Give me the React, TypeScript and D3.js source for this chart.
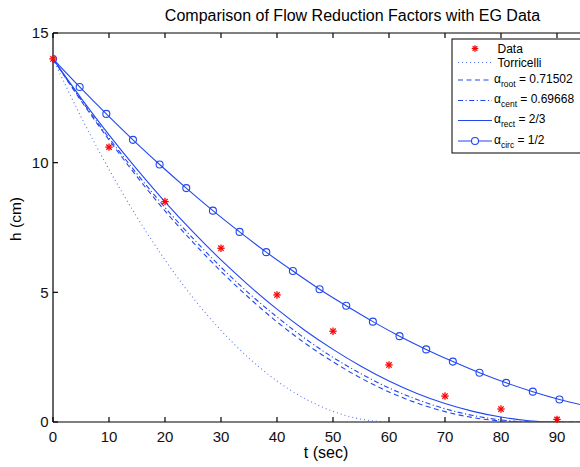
import React from "react";
import * as d3 from "d3";

// ---- data ----
const dataT = [0, 10, 20, 30, 40, 50, 60, 70, 80, 90];
const dataH = [14.0, 10.6, 8.5, 6.7, 4.9, 3.5, 2.2, 1.0, 0.5, 0.1];

const modelT = [0, 5, 10, 15, 20, 25, 30, 35, 40, 45, 50, 55, 60, 65, 70, 75, 80, 85, 90, 95];
const torricelliH = [14.0, 11.77, 9.74, 7.9, 6.25, 4.79, 3.53, 2.46, 1.58, 0.9, 0.41, 0.11, 0.0];
const rootH = [14.0, 12.39, 10.88, 9.46, 8.14, 6.93, 5.81, 4.79, 3.86, 3.04, 2.32, 1.69, 1.16, 0.73, 0.4, 0.17, 0.04, 0.0, 0.0, 0.0];
const centH = [14.0, 12.43, 10.95, 9.57, 8.27, 7.08, 5.97, 4.96, 4.05, 3.22, 2.49, 1.86, 1.31, 0.87, 0.51, 0.25, 0.08, 0.004, 0.0, 0.0];
const rectH = [14.0, 12.49, 11.07, 9.74, 8.49, 7.33, 6.25, 5.26, 4.35, 3.53, 2.8, 2.15, 1.58, 1.1, 0.71, 0.41, 0.19, 0.05, 0.0, 0.0];

const circT = [0, 4.76, 9.52, 14.28, 19.04, 23.8, 28.56, 33.32, 38.08, 42.84, 47.6, 52.36, 57.12, 61.88, 66.64, 71.4, 76.16, 80.92, 85.68, 90.44, 95.2];
const circH = [14.0, 12.92, 11.88, 10.88, 9.93, 9.02, 8.15, 7.33, 6.55, 5.82, 5.12, 4.48, 3.87, 3.31, 2.8, 2.33, 1.9, 1.51, 1.17, 0.87, 0.62];

const xTicks = [0, 10, 20, 30, 40, 50, 60, 70, 80, 90];
const yTicks = [0, 5, 10, 15];

const title = "Comparison of Flow Reduction Factors with EG Data";
const xLabel = "t (sec)";
const yLabel = "h (cm)";

const BLUE = "#2148f0";
const RED = "#ff0000";
const FONT = "'Liberation Sans', Arial, Helvetica, sans-serif";

function Star({ x, y, r = 3.7 }: { x: number; y: number; r?: number }) {
  const d = r * 0.72;
  return (
    <g stroke={RED} strokeWidth={1.3}>
      <line x1={x - r} y1={y} x2={x + r} y2={y} />
      <line x1={x} y1={y - r} x2={x} y2={y + r} />
      <line x1={x - d} y1={y - d} x2={x + d} y2={y + d} />
      <line x1={x - d} y1={y + d} x2={x + d} y2={y - d} />
    </g>
  );
}

export default function App() {
  const W = 580, H = 467;
  const left = 53, top = 33, bottom = 422;
  const x = d3.scaleLinear().domain([0, 100]).range([left, 613]);
  const y = d3.scaleLinear().domain([0, 15]).range([bottom, top]);

  const mk = (ts: number[], hs: number[]) =>
    d3
      .line<number>()
      .x((_, i) => x(ts[i]))
      .y((h) => y(h))
      .curve(d3.curveMonotoneX)(hs) as string;

  const tick = 5;

  const legX0 = 452, legY0 = 39;
  const sx1 = 458, sx2 = 492, tx = 497.5;
  const rows = [48.5, 62.5, 80, 100.5, 120.5, 141];

  const alphaLabel = (sub: string, val: string, yy: number) => (
    <text x={494} y={yy + 3.5} fontSize={12} fontFamily={FONT} fill="#000">
      <tspan>α</tspan>
      <tspan fontSize={8.5} dy={4}>{sub}</tspan>
      <tspan dy={-4}>{" = " + val}</tspan>
    </text>
  );

  return (
    <svg width={W} height={H} style={{ position: "absolute", left: 0, top: 0, background: "#fff" }}>
      <defs>
        <clipPath id="plot">
          <rect x={left} y={top} width={613 - left} height={bottom - top} />
        </clipPath>
      </defs>
      <rect x={0} y={0} width={W} height={H} fill="#fff" />

      {/* axes frame */}
      <g stroke="#000" strokeWidth={1.2} fill="none">
        <line x1={left} y1={top} x2={W} y2={top} />
        <line x1={left} y1={bottom} x2={W} y2={bottom} />
        <line x1={left} y1={top} x2={left} y2={bottom} />
        {xTicks.map((t) => (
          <g key={"xt" + t}>
            <line x1={x(t)} y1={bottom} x2={x(t)} y2={bottom - tick} />
            <line x1={x(t)} y1={top} x2={x(t)} y2={top + tick} />
          </g>
        ))}
        {yTicks.map((t) => (
          <line key={"yt" + t} x1={left} y1={y(t)} x2={left + tick} y2={y(t)} />
        ))}
      </g>

      {/* tick labels */}
      <g fontFamily={FONT} fontSize={15} fill="#111">
        {xTicks.map((t) => (
          <text key={"xl" + t} x={x(t)} y={442} textAnchor="middle">
            {t}
          </text>
        ))}
        {yTicks.map((t) => (
          <text key={"yl" + t} x={48.5} y={y(t) + 5.3} textAnchor="end">
            {t}
          </text>
        ))}
      </g>

      {/* curves */}
      <g clipPath="url(#plot)" fill="none" stroke={BLUE} strokeWidth={1.1}>
        <path d={mk(modelT, torricelliH)} strokeDasharray="1,3" strokeOpacity={0.75} />
        <path d={mk(modelT, rootH)} strokeDasharray="5,3.5" />
        <path d={mk(modelT, centH)} strokeDasharray="5,2.5,1.2,2.5" />
        <path d={mk(modelT, rectH)} />
        <path d={mk(circT, circH)} />
        {circT.map((t, i) => (
          <circle key={"c" + i} cx={x(t)} cy={y(circH[i])} r={3.5} />
        ))}
      </g>
      {dataT.map((t, i) => (
        <Star key={"s" + i} x={x(t)} y={y(dataH[i])} />
      ))}

      {/* title & labels */}
      <text x={352.5} y={21} textAnchor="middle" fontFamily={FONT} fontSize={16} fill="#000">
        {title}
      </text>
      <text x={326} y={458} textAnchor="middle" fontFamily={FONT} fontSize={16} fill="#000">
        {xLabel}
      </text>
      <text
        transform={`translate(20.5, 219) rotate(-90)`}
        textAnchor="middle"
        fontFamily={FONT}
        fontSize={15.5}
        fill="#000"
      >
        {yLabel}
      </text>

      {/* legend */}
      <rect x={legX0} y={legY0} width={140} height={114} fill="#fff" stroke="#000" strokeWidth={1} />
      <Star x={(sx1 + sx2) / 2} y={rows[0]} r={3.3} />
      <text x={tx} y={rows[0] + 4.3} fontSize={12} fontFamily={FONT}>Data</text>
      <g stroke={BLUE} strokeWidth={1.1} fill="none">
        <line x1={sx1} y1={rows[1]} x2={sx2} y2={rows[1]} strokeDasharray="1,3" strokeOpacity={0.75} />
        <line x1={sx1} y1={rows[2]} x2={sx2} y2={rows[2]} strokeDasharray="5,3.5" />
        <line x1={sx1} y1={rows[3]} x2={sx2} y2={rows[3]} strokeDasharray="5,2.5,1.2,2.5" />
        <line x1={sx1} y1={rows[4]} x2={sx2} y2={rows[4]} />
        <line x1={sx1} y1={rows[5]} x2={sx2} y2={rows[5]} />
        <circle cx={(sx1 + sx2) / 2} cy={rows[5]} r={3.5} fill="#fff" />
      </g>
      <text x={tx} y={rows[1] + 4.3} fontSize={12} fontFamily={FONT}>Torricelli</text>
      {alphaLabel("root", "0.71502", rows[2] - 1)}
      {alphaLabel("cent", "0.69668", rows[3] - 1)}
      {alphaLabel("rect", "2/3", rows[4] - 1)}
      {alphaLabel("circ", "1/2", rows[5] - 1)}
    </svg>
  );
}
